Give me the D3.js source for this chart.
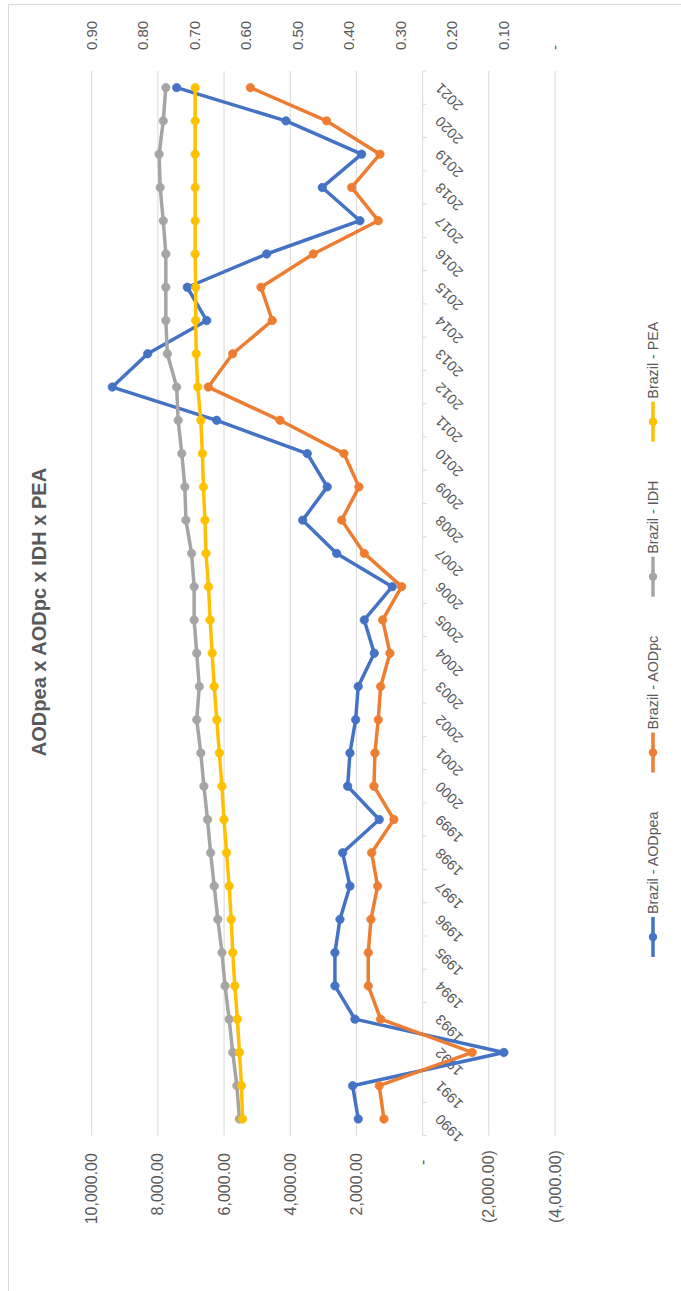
<!DOCTYPE html>
<html><head><meta charset="utf-8">
<script src="https://cdn.jsdelivr.net/npm/d3@7"></script>
<style>
body{margin:0;background:#fff}
svg{display:block}
text{font-family:"Liberation Sans",Arial,sans-serif;fill:#595959}
</style>
</head><body>
<svg id="c" width="681" height="1291"></svg>
<script>
const years = [1990,1991,1992,1993,1994,1995,1996,1997,1998,1999,2000,2001,2002,2003,2004,2005,2006,2007,2008,2009,2010,2011,2012,2013,2014,2015,2016,2017,2018,2019,2020,2021];
const aodPea = [1946,2115,-2456,2045,2650,2650,2498,2196,2417,1311,2266,2196,2024,1946,1462,1764,918,2598,3625,2882,3486,6224,9378,8308,6526,7112,4713,1894,3033,1843,4130,7432];
const aodPc  = [1169,1311,-1498,1269,1643,1643,1562,1360,1541,867,1471,1441,1341,1269,988,1208,634,1764,2447,1924,2378,4311,6477,5740,4544,4885,3305,1341,2145,1290,2900,5205];
const idh    = [0.613,0.618,0.626,0.633,0.641,0.647,0.655,0.662,0.669,0.675,0.682,0.688,0.696,0.691,0.696,0.701,0.701,0.706,0.717,0.719,0.725,0.732,0.735,0.753,0.756,0.756,0.756,0.761,0.767,0.769,0.761,0.756];
const pea    = [0.607,0.609,0.613,0.617,0.622,0.626,0.629,0.633,0.638,0.643,0.647,0.652,0.657,0.662,0.666,0.670,0.673,0.678,0.680,0.683,0.685,0.688,0.694,0.697,0.698,0.698,0.699,0.699,0.699,0.699,0.699,0.699];
const primaryTicks = [-4000,-2000,0,2000,4000,6000,8000,10000];
const secondaryTicks = [0,0.1,0.2,0.3,0.4,0.5,0.6,0.7,0.8,0.9];
const seriesNames = ["Brazil - AODpea","Brazil - AODpc","Brazil - IDH","Brazil - PEA"];
const seriesColors = ["#4472C4","#ED7D31","#A5A5A5","#FFC000"];
const title = "AODpea x AODpc x IDH x PEA";

const series = [
  {name:seriesNames[0], color:seriesColors[0], values:aodPea, axis:"primary"},
  {name:seriesNames[1], color:seriesColors[1], values:aodPc, axis:"primary"},
  {name:seriesNames[2], color:seriesColors[2], values:idh, axis:"secondary"},
  {name:seriesNames[3], color:seriesColors[3], values:pea, axis:"secondary"}
];

const svg = d3.select("#c");
svg.append("rect").attr("x",8.5).attr("y",4.5).attr("width",700).attr("height",1300)
  .attr("fill","#fff").attr("stroke","#d9d9d9").attr("stroke-width",1);

// Chart is drawn in an unrotated frame (1291 wide x 681 tall) then rotated -90deg.
const g = svg.append("g").attr("transform","translate(0,1291) rotate(-90)");

const x = d3.scaleBand().domain(years).range([155.4,1220]);
const y1 = d3.scaleLinear().domain([-4000,10000]).range([555,91.7]);
const y2 = d3.scaleLinear().domain([0,0.9]).range([555,91.7]);
const bw = x.bandwidth();
const [u0,u1] = x.range();

// gridlines
g.append("g").selectAll("line").data(primaryTicks).join("line")
  .attr("x1",u0).attr("x2",u1).attr("y1",d=>y1(d)).attr("y2",d=>y1(d))
  .attr("stroke","#d9d9d9").attr("stroke-width",1);

// category tick marks
g.append("g").selectAll("line").data(d3.range(years.length+1)).join("line")
  .attr("x1",i=>u0+i*bw).attr("x2",i=>u0+i*bw)
  .attr("y1",y1(0)).attr("y2",y1(0)+4)
  .attr("stroke","#d9d9d9").attr("stroke-width",1);

// primary axis labels
const f2 = d3.format(",.2f");
g.append("g").selectAll("text").data(primaryTicks).join("text")
  .attr("x",d=> d<0 ? u0-14.5 : (d===0 ? u0-24 : u0-17.5))
  .attr("y",d=>y1(d)).attr("dy","0.35em")
  .attr("text-anchor","end").style("font-size","16px")
  .text(d=> d<0 ? "("+f2(-d)+")" : (d===0 ? "-" : f2(d)));

// secondary axis labels
g.append("g").selectAll("text").data(secondaryTicks).join("text")
  .attr("x",u1+21).attr("y",d=>y2(d)).attr("dy","0.35em")
  .attr("text-anchor","start").style("font-size","15px")
  .text(d=> d===0 ? "-" : d3.format(".2f")(d));

// category labels
g.append("g").selectAll("text").data(years).join("text")
  .attr("transform",d=>`translate(${x(d)+bw/2+2},${y1(0)+15}) rotate(-45)`)
  .attr("dy","0.35em").attr("text-anchor","end").style("font-size","14.5px")
  .text(d=>d);

// series
series.forEach(s=>{
  const ys = s.axis==="primary" ? y1 : y2;
  const pts = years.map((yr,i)=>[x(yr)+bw/2, ys(s.values[i])]);
  g.append("path").attr("d",d3.line()(pts)).attr("fill","none")
    .attr("stroke",s.color).attr("stroke-width",3.5)
    .attr("stroke-linejoin","round").attr("stroke-linecap","round");
  g.append("g").selectAll("circle").data(pts).join("circle")
    .attr("cx",d=>d[0]).attr("cy",d=>d[1]).attr("r",4.2)
    .attr("fill",s.color).attr("stroke",s.color).attr("stroke-width",0.75);
});

// title
g.append("text").attr("x",679).attr("y",46).attr("text-anchor","middle")
  .style("font-size","20px").style("font-weight","bold").text(title);

// legend
let lu = 334;
const lv = 653;
series.forEach(s=>{
  const it = g.append("g");
  it.append("line").attr("x1",lu).attr("x2",lu+40).attr("y1",lv).attr("y2",lv)
    .attr("stroke",s.color).attr("stroke-width",3.5);
  it.append("circle").attr("cx",lu+20).attr("cy",lv).attr("r",4.2).attr("fill",s.color);
  const t = it.append("text").attr("x",lu+43).attr("y",lv).attr("dy","0.35em")
    .style("font-size","14.3px").text(s.name);
  lu = lu + 43 + t.node().getComputedTextLength() + 39;
});
</script>
</body></html>
